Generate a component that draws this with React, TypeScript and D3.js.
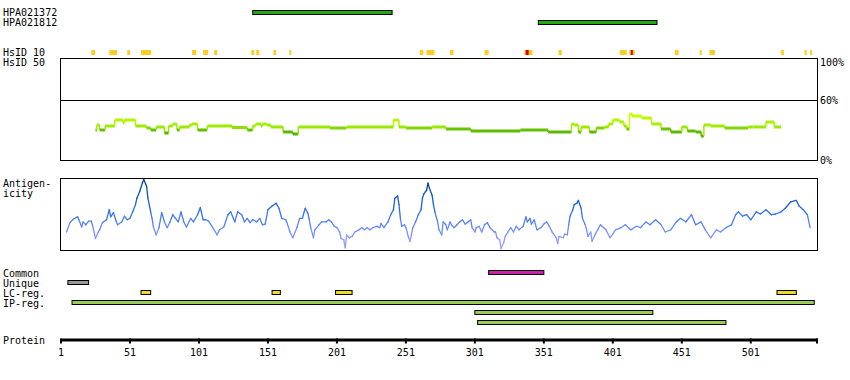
import React from "react";
import * as d3 from "d3";

const PROTEIN_LENGTH = 549;
const axisTicks = [1, 51, 101, 151, 201, 251, 301, 351, 401, 451, 501];

const antibodyNames = ["HPA021372", "HPA021812"];
const antibodyRanges: [number, number][] = [[140, 241], [347, 433]];

const hsid10Yellow: [number, number][] = [
  [23, 25.7], [36, 41.6], [49, 51], [59, 66.3], [96, 99], [104, 107.7], [112, 114.2],
  [139, 141], [142.5, 144.7], [155, 157], [166.5, 168], [261, 263.7], [266, 271.7],
  [283, 285.5], [308, 311], [337, 342.8], [361.7, 364], [406, 411], [413, 417],
  [446, 448.7], [464, 465.4], [471, 475], [523, 525], [540, 541.6], [544, 545.3],
];
const hsid10Red: [number, number][] = [[337.8, 340], [414, 415.5]];

const identityRes = [
  26, 27, 29, 33, 40, 46, 47, 55, 63, 66, 70, 76, 79, 82, 85, 87, 94, 96, 100, 107,
  125, 136, 140, 142, 146, 147, 150, 153, 162, 169, 173, 196, 208, 242, 246, 251, 270,
  280, 298, 334, 354, 371, 373, 376, 378, 384, 389, 395, 398, 401, 406, 409, 411, 413,
  415, 422, 429, 436, 443, 451, 455, 461, 465, 467, 472, 482, 499, 503, 512, 518, 523,
];
const identityVal = [
  30, 35, 30, 34, 40, 37, 40, 34, 32, 30, 33, 27, 34, 36, 30, 33, 35, 36, 30, 34,
  32.5, 30, 34, 36, 34, 36, 35, 33, 28, 26, 33, 32, 33, 40, 33, 32, 33,
  31, 29, 30, 28, 36, 35, 28, 33, 28, 32, 33, 36, 40, 38, 34, 31, 46,
  44, 42, 36, 31, 28, 33, 29, 28, 24, 35, 34, 32, 33, 33, 38, 33, 33,
];

const antigenRes = [
  5, 7.5, 10, 13, 14, 16, 17, 19, 21, 23, 24, 26, 28, 29, 31, 34, 36, 37, 39, 41,
  42, 45, 47, 49, 51, 53, 55, 56, 58, 60, 61, 63, 64, 66, 67, 68, 70, 72, 74, 76,
  78, 80, 82, 84, 86, 88, 90, 92, 95, 97, 100, 102, 104, 106, 108, 111, 113, 114, 116, 119,
  122, 124, 127, 129, 132, 134, 136, 138, 140, 143, 145, 147, 149, 151, 154, 157, 159, 161, 164, 166,
  167, 169, 172, 174, 176, 178, 180, 181, 182, 184, 185, 188, 190, 193, 195, 197, 199, 201, 203, 204,
  206, 207, 208, 210, 212, 214, 217, 219, 221, 223, 225, 227, 230, 232, 233, 235, 238, 240, 242, 243,
  245, 246, 247, 248, 250, 251, 253, 254, 255, 256, 258, 260, 262, 263, 264, 266, 267, 268, 270, 271,
  272, 274, 275, 277, 278, 280, 281, 283, 284, 286, 288, 290, 292, 294, 296, 298, 299, 301, 302, 304,
  306, 308, 310, 312, 315, 316, 317, 319, 320, 322, 323, 325, 327, 329, 331, 333, 336, 338, 339, 341,
  342, 344, 346, 349, 351, 353, 355, 357, 360, 361, 362, 365, 366, 368, 369, 370, 372, 373, 375, 376,
  378, 379, 381, 382, 383, 385, 386, 388, 390, 392, 396, 399, 403, 407, 410, 414, 418, 421, 425, 428,
  432, 436, 439, 443, 447, 450, 454, 458, 461, 465, 468, 472, 476, 479, 483, 487, 490, 492, 495, 498,
  501, 505, 508, 512, 516, 519, 523, 526, 530, 534, 536, 539, 542, 544,
];
const antigenVal = [
  25, 38, 43, 46, 42, 32, 39, 35, 40, 40, 33, 16, 25, 28, 38, 42, 56, 46, 52, 40,
  35, 39, 47, 42, 44, 53, 63, 72, 81, 93, 98, 89, 72, 53, 44, 32, 21, 31, 52, 39,
  31, 39, 49, 44, 39, 53, 39, 32, 44, 39, 49, 59, 42, 42, 40, 31, 25, 21, 28, 32,
  49, 53, 39, 53, 49, 39, 44, 38, 42, 39, 44, 35, 36, 56, 61, 65, 58, 44, 42, 31,
  25, 17, 31, 44, 44, 58, 51, 42, 31, 17, 28, 35, 39, 39, 42, 39, 33, 31, 25, 16,
  14, 3, 21, 17, 19, 25, 28, 31, 28, 31, 28, 31, 33, 31, 37, 31, 39, 49, 56, 72,
  75, 63, 44, 33, 35, 31, 17, 12, 21, 31, 39, 49, 56, 72, 78, 83, 93, 86, 76, 63,
  53, 39, 28, 21, 39, 35, 28, 39, 35, 31, 35, 39, 42, 36, 39, 42, 31, 25, 31, 33,
  25, 35, 38, 31, 25, 25, 17, 14, 2, 11, 19, 25, 31, 25, 33, 28, 33, 46, 39, 44,
  36, 42, 28, 31, 36, 39, 33, 25, 17, 9, 19, 17, 22, 21, 35, 47, 56, 63, 65, 69,
  58, 44, 35, 28, 19, 25, 12, 21, 28, 35, 28, 17, 28, 31, 35, 28, 33, 31, 39, 35,
  42, 35, 25, 28, 39, 44, 39, 49, 35, 39, 28, 17, 28, 25, 31, 35, 49, 53, 47, 49,
  42, 53, 50, 56, 49, 50, 53, 58, 67, 69, 61, 56, 49, 31,
];

const commonRegions: [number, number][] = [[311, 351]];
const uniqueRegions: [number, number][] = [[6, 21]];
const lcRegions: [number, number][] = [[59, 66], [154, 160], [200, 212], [520, 534]];
const ipRows: [number, number][][] = [[[9, 547]], [[301, 430]], [[303, 483]]];

const FONT = "'DejaVu Sans Mono', monospace";

export default function App() {
  const x = d3.scaleLinear().domain([1, PROTEIN_LENGTH]).range([61, 817]);
  const yId = d3.scaleLinear().domain([0, 60, 100]).range([160, 100, 58]);
  const yAg = d3.scaleLinear().domain([0, 100]).range([250, 178]);
  const idColor = d3.scaleLinear<string>()
    .domain([26, 31, 33, 38, 46])
    .range(["#55b000", "#66c400", "#99ea00", "#aaf400", "#ccff00"]).clamp(true);
  const agColor = d3.scaleLinear<string>().domain([0, 30, 60, 100]).range(["#b2a4ff", "#6a8cff", "#1a66ee", "#003a90"]).clamp(true);

  const label = (t: string, yy: number, xx = 3) => (
    <text key={t + yy} x={xx} y={yy} fontFamily={FONT} fontSize={10} fill="#000">{t}</text>
  );

  const bar = (r: [number, number], y0: number, fill: string, key: string) => (
    <rect key={key} x={x(r[0])} y={y0 + 0.5} width={x(r[1]) - x(r[0])} height={4} fill={fill} stroke="#000" strokeWidth={1} />
  );

  const idSegs: JSX.Element[] = [];
  for (let i = 0; i < identityRes.length - 1; i++) {
    const x0 = x(identityRes[i]);
    const x1 = x(identityRes[i + 1]);
    const yv = yId(identityVal[i]);
    const yn = yId(identityVal[i + 1]);
    const c = idColor(identityVal[i]);
    idSegs.push(<line key={"h" + i} x1={x0} x2={x1} y1={yv} y2={yv} stroke={c} strokeWidth={3} />);
    if (i < identityRes.length - 2) {
      idSegs.push(<line key={"v" + i} x1={x1} x2={x1} y1={yv} y2={yn} stroke={idColor(Math.max(identityVal[i], identityVal[i + 1]))} strokeWidth={1.5} />);
    }
  }

  const agSegs: JSX.Element[] = [];
  for (let i = 0; i < antigenRes.length - 1; i++) {
    agSegs.push(
      <line key={"a" + i} x1={x(antigenRes[i])} y1={yAg(antigenVal[i])} x2={x(antigenRes[i + 1])} y2={yAg(antigenVal[i + 1])}
        stroke={agColor((antigenVal[i] + antigenVal[i + 1]) / 2)} strokeWidth={1.3} strokeLinecap="round" />
    );
  }

  return (
    <svg width={850} height={380} style={{ position: "absolute", left: 0, top: 0, background: "#fff" }}>
      <rect x={0} y={0} width={850} height={380} fill="#fff" />
      {label(antibodyNames[0], 16)}
      {label(antibodyNames[1], 26)}
      {bar(antibodyRanges[0], 10, "#22aa11", "ab0")}
      {bar(antibodyRanges[1], 20, "#22aa11", "ab1")}

      {label("HsID 10", 56)}
      {label("HsID 50", 66)}
      {hsid10Yellow.map((r, i) => (
        <rect key={"hy" + i} x={x(r[0])} y={50} width={Math.max(2, x(r[1]) - x(r[0]))} height={5} fill="#ffcc22" />
      ))}
      {hsid10Red.map((r, i) => (
        <rect key={"hr" + i} x={x(r[0])} y={50} width={Math.max(2, x(r[1]) - x(r[0]))} height={5} fill="#dd0000" />
      ))}
      <rect x={60.5} y={58.5} width={757} height={102} fill="none" stroke="#000" strokeWidth={1} />
      <line x1={60.5} x2={817.5} y1={yId(60) + 0.5} y2={yId(60) + 0.5} stroke="#000" strokeWidth={1} />
      {idSegs}
      <text x={820} y={66} fontFamily={FONT} fontSize={10}>100%</text>
      <text x={820} y={104} fontFamily={FONT} fontSize={10}>60%</text>
      <text x={820} y={164} fontFamily={FONT} fontSize={10}>0%</text>

      {label("Antigen-", 187)}
      {label("icity", 197)}
      <rect x={60.5} y={178.5} width={757} height={72} fill="none" stroke="#000" strokeWidth={1} />
      {agSegs}

      {label("Common", 277)}
      {label("Unique", 287)}
      {label("LC-reg.", 297)}
      {label("IP-reg.", 307)}
      {commonRegions.map((r, i) => bar(r, 270, "#cc22aa", "c" + i))}
      {uniqueRegions.map((r, i) => bar(r, 280, "#999999", "u" + i))}
      {lcRegions.map((r, i) => bar(r, 290, "#eedd22", "l" + i))}
      {ipRows.map((row, j) => row.map((r, i) => bar(r, 300 + j * 10, "#99cc55", "ip" + j + "_" + i)))}

      {label("Protein", 344)}
      <rect x={x(1)} y={338.5} width={x(PROTEIN_LENGTH) - x(1) + 1} height={3} fill="#000" />
      {axisTicks.map((t) => (
        <g key={"t" + t}>
          <rect x={x(t) - 1} y={338.5} width={2} height={5} fill="#000" />
          <text x={x(t)} y={356} textAnchor="middle" fontFamily={FONT} fontSize={10}>{t}</text>
        </g>
      ))}
      <rect x={x(PROTEIN_LENGTH) - 1} y={338.5} width={2} height={5} fill="#000" />
    </svg>
  );
}
